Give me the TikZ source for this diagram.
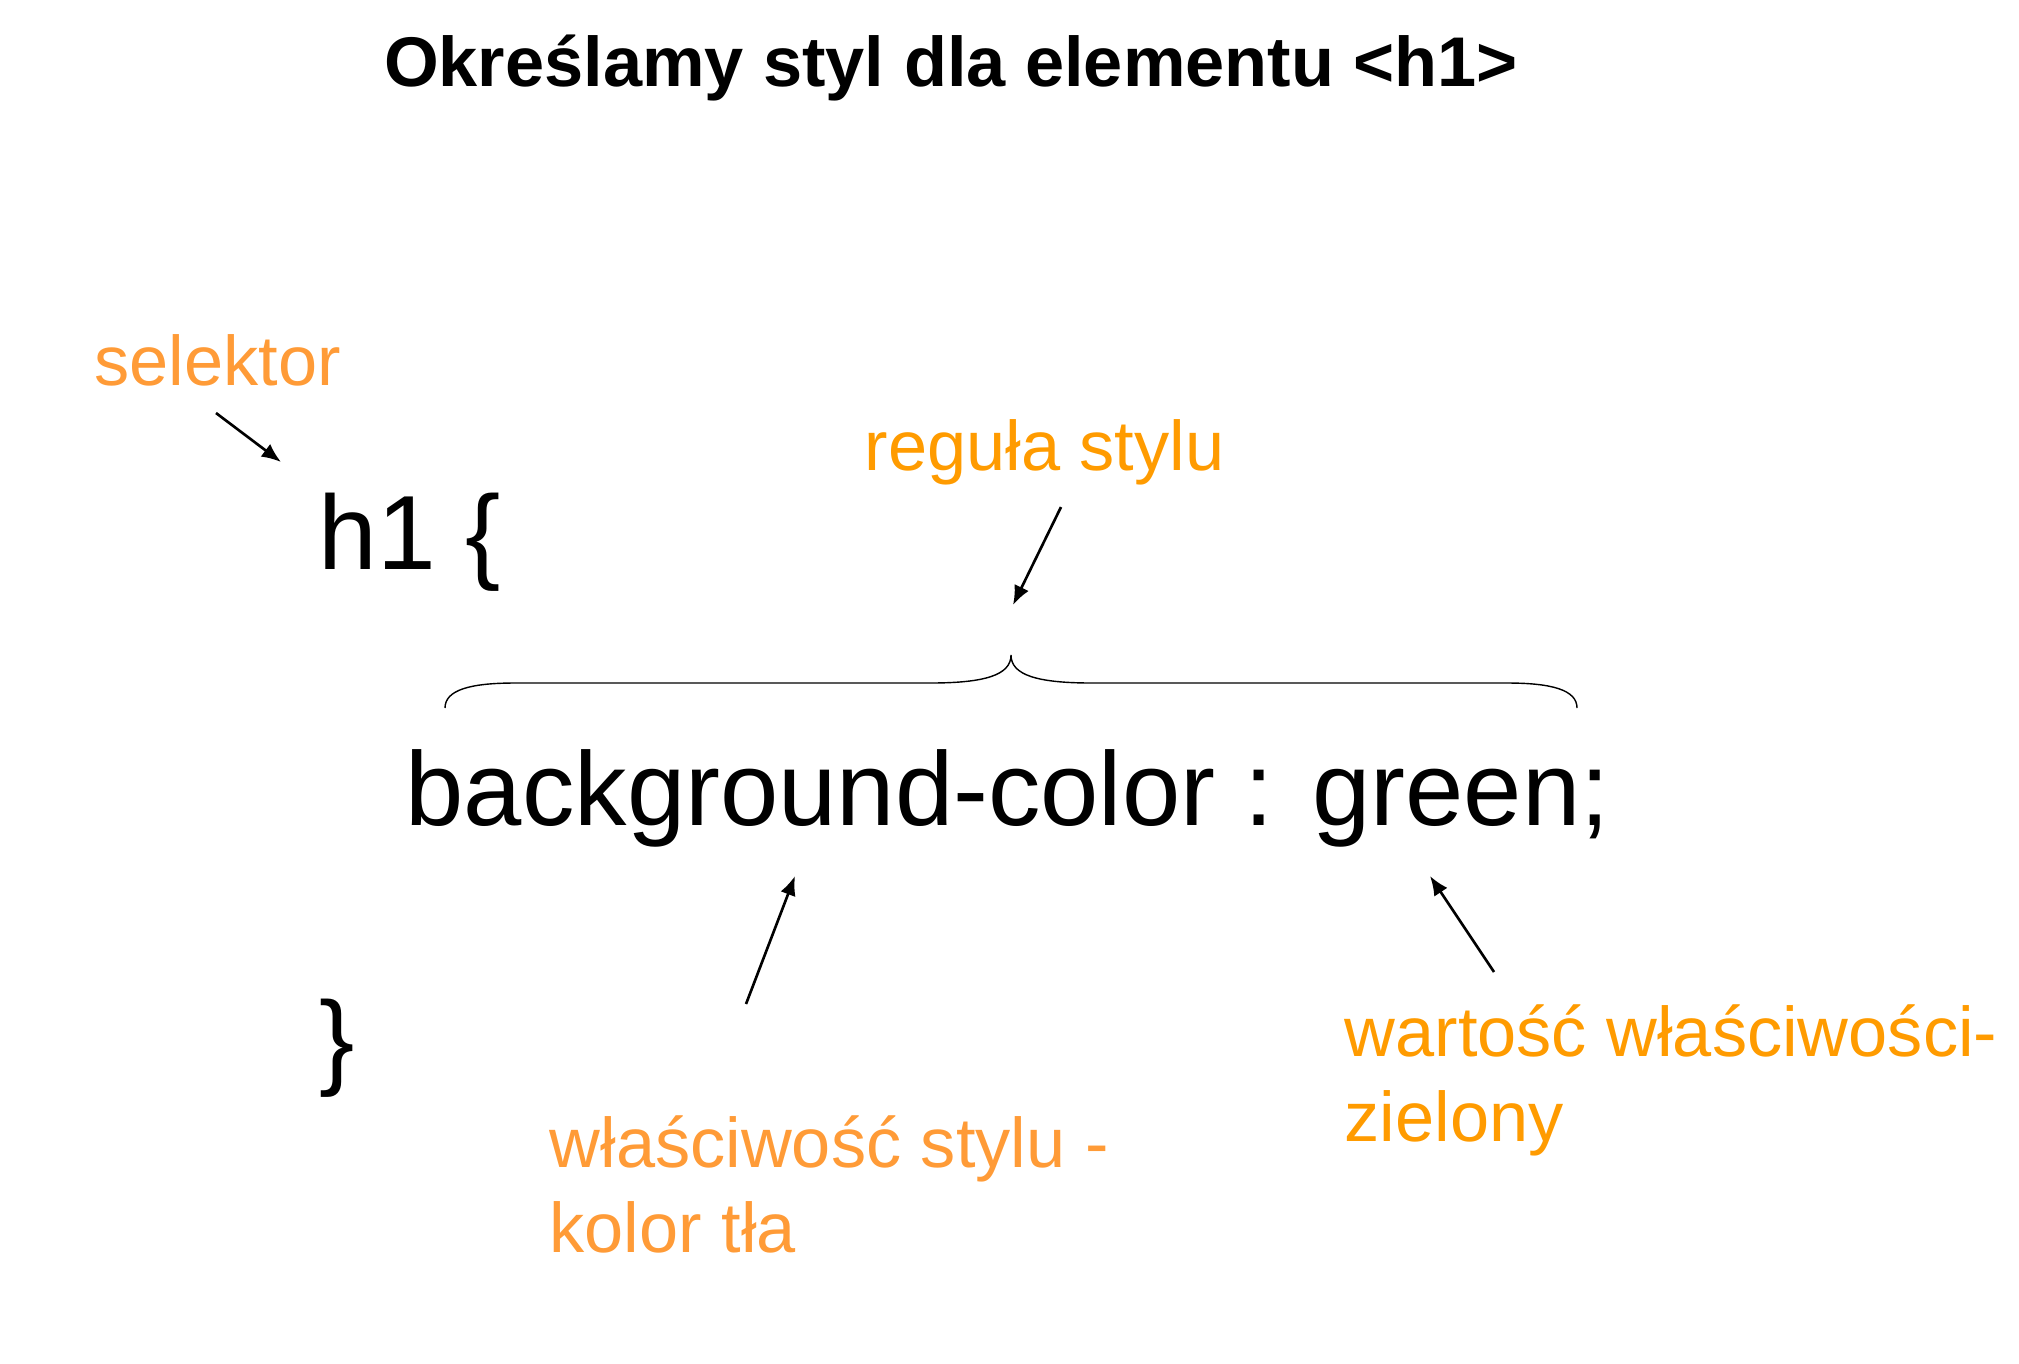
\documentclass[tikz,border=0pt]{standalone}
\usepackage{fontspec}
\setmainfont{Liberation Sans}
\usetikzlibrary{arrows.meta}
\definecolor{lightorange}{RGB}{255,155,55}
\definecolor{deeporange}{RGB}{255,155,0}

\begin{document}
\begin{tikzpicture}[x=0.01cm,y=-0.01cm,
		code/.style={anchor=base west, inner sep=0pt, font=\fontsize{30}{36}\selectfont},
		note/.style={anchor=base west, inner sep=0pt, align=left, font=\fontsize{20}{24}\selectfont},
		pointer/.style={-{Latex[length=5.5pt,width=4.5pt]}, line width=0.75pt}]
		\useasboundingbox (0,0) rectangle (2019,1363);

		\node[anchor=base, inner sep=0pt, font=\fontsize{20}{24}\selectfont\bfseries] (title) at (951,86) {Określamy styl dla elementu <h1>};

		\node[code] (open) at (318,569) {h1 \{};
		\node[code] (decl) at (405,825) {\fontsize{29.8}{36}\selectfont background-color : green;};
		\node[code] (close) at (319,1075) {\}};

		\node[note, text=lightorange] (selektor) at (94,385) {selektor};
		\node[note, text=deeporange] (regula) at (864,470) {reguła stylu};
		% base anchor of a two-line note sits on its last line
		\node[note, text=lightorange] (wlasciwosc) at (549,1252) {właściwość stylu -\\kolor tła};
		\node[note, text=deeporange] (wartosc) at (1344,1141) {wartość właściwości-\\zielony};

		% brace over the declaration
		\draw[line width=0.4pt] (445,708) .. controls (445,690) and (470,683) .. (515,683) -- (930,683)
			.. controls (985,683) and (1011,675) .. (1011,655)
			.. controls (1011,675) and (1037,683) .. (1092,683) -- (1507,683)
			.. controls (1552,683) and (1577,690) .. (1577,708);

		\coordinate (selfrom) at (216,413);
		\coordinate (selto) at (281,462);
		\coordinate (regfrom) at (1061,507);
		\coordinate (regto) at (1013,605);
		\coordinate (propfrom) at (746,1004);
		\coordinate (propto) at (795,876);
		\coordinate (valfrom) at (1494,972);
		\coordinate (valto) at (1430,876);

		\draw[pointer] (selfrom) -- (selto);
		\draw[pointer] (regfrom) -- (regto);
		\draw[pointer] (propfrom) -- (propto);
		\draw[pointer] (valfrom) -- (valto);
	\end{tikzpicture}
\end{document}
